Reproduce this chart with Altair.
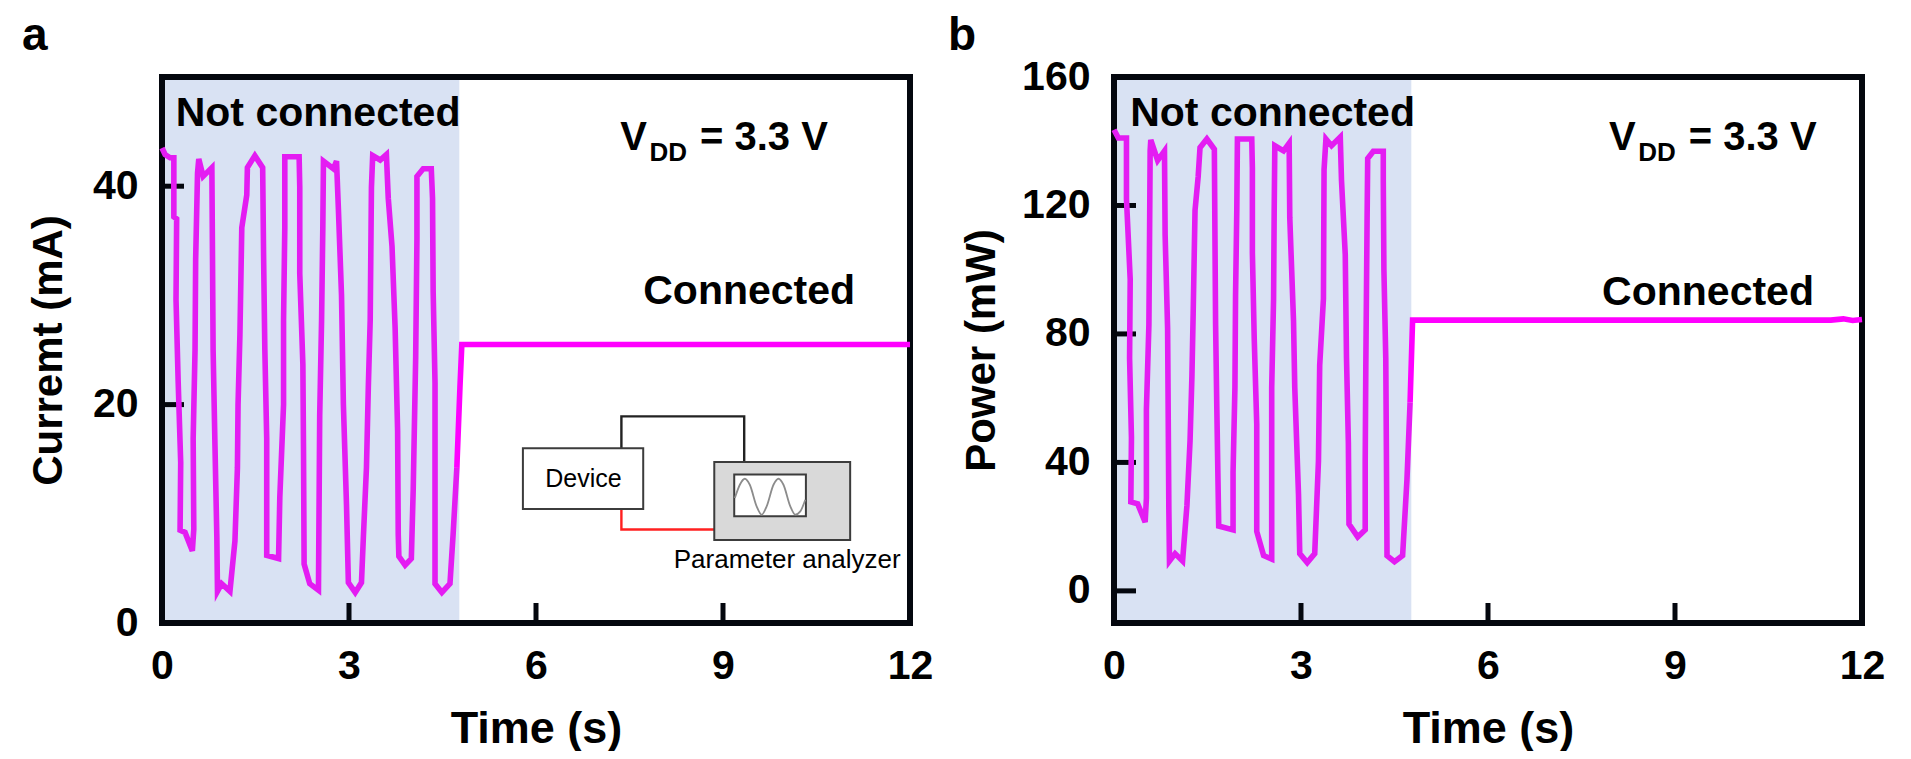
import altair as alt
import pandas as pd

# Panel a: time (s) and current (mA)
a_t = [0,.05,.13,.19,.19,.235,.225,.26,.30,.29,.37,.487,.51,.50,.53,.54,.57,.59,.66,.80,.81,.82,.85,.88,.89,.957,1.09,1.17,1.21,1.22,1.25,1.28,1.36,1.37,1.49,1.615,1.63,1.65,1.68,1.68,1.68,1.87,1.89,1.95,1.95,1.97,1.97,2.2,2.21,2.21,2.26,2.27,2.28,2.37,2.51,2.52,2.53,2.56,2.58,2.59,2.75,2.80,2.83,2.88,2.91,2.96,2.99,3.10,3.2,3.23,3.28,3.31,3.34,3.36,3.38,3.5,3.6,3.63,3.69,3.74,3.78,3.79,3.8,3.9,4.0,4.03,4.07,4.09,4.09,4.19,4.32,4.34,4.35,4.38,4.38,4.38,4.49,4.62,4.67,4.73,4.78,4.81,6,8,10,11.5,12]
a_i = [43.5,42.9,42.6,42.6,37.2,37.0,29.6,22,14.7,8.5,8.3,6.6,8.6,16.9,25,33.3,41.2,42.5,40.9,41.7,33.6,25,16.2,7.8,2.9,3.6,2.9,7.5,14.2,20,26.4,36.2,39.2,41.7,42.8,41.7,33.5,25,16.9,9,6.2,5.9,11.5,20,27.7,36.2,42.7,42.7,39.9,32,23.7,15.9,5.4,3.6,3.0,10.8,19,27.7,36.2,42.3,41.6,42.3,37.9,30,20,10.8,3.7,2.8,3.7,7.8,14.2,21.6,27.7,39.9,42.8,42.4,42.9,38.9,34.5,27,17.6,8.1,6.1,5.3,5.9,12.2,24.4,35.2,40.9,41.6,41.6,38.9,30.4,22,13.5,3.6,2.8,3.6,8.1,14.2,21.6,25.5,25.5,25.5,25.5,25.5,25.5]

# Panel b: time (s) and power (mW)
b_t = [0,.07,.2,.2,.26,.25,.28,.27,.38,.5,.52,.52,.56,.57,.58,.59,.7,.81,.82,.86,.87,.88,.89,.98,1.1,1.17,1.22,1.25,1.27,1.3,1.35,1.38,1.49,1.61,1.62,1.63,1.65,1.68,1.91,1.91,1.94,1.95,1.97,1.98,2.21,2.22,2.22,2.25,2.29,2.29,2.4,2.53,2.53,2.53,2.56,2.57,2.58,2.72,2.81,2.82,2.88,2.9,2.96,2.98,3.1,3.22,3.28,3.3,3.36,3.37,3.4,3.49,3.63,3.65,3.71,3.73,3.76,3.77,3.91,4.03,4.03,4.04,4.06,4.07,4.16,4.32,4.32,4.33,4.36,4.37,4.38,4.5,4.63,4.7,4.75,4.79,6,8,10,11.5,11.7,11.85,12]
b_p = [143.6,141,141,122,97,72.5,47.8,27.7,27.1,21.4,28.9,56.5,82.9,109,137,140.4,134,137,111,81.7,53.6,25.4,9.3,11.6,9.3,26.6,46.7,66.8,86.3,118.5,128.9,138,140.7,137.5,109,82.9,56.5,20.2,19,36.9,63.3,92,118.5,140.7,140.7,131.7,105.3,78.3,51.9,18.5,11,9.9,33.5,63.3,91,118.5,138.6,137,139.4,116.2,84,63.3,30,11.6,8.8,11.6,40.4,70.2,91,131.2,140.7,138.6,141.3,127.7,104.7,72.5,46.1,20.8,16.8,19,40.4,70.2,115,134.6,136.9,136.9,127.7,100.1,72.5,43.8,11,9.1,11,34.6,58.7,84.3,84.3,84.3,84.3,84.3,84.7,84.2,84.5]

# Inset schematic, in panel a's units
inset_sine_t = [9.19,9.27,9.35,9.43,9.54,9.62,9.70,9.81,9.89,9.97,10.08,10.16,10.24,10.32]
inset_sine_i = [11.44,12.66,13.21,12.66,10.68,9.92,10.68,12.66,13.21,12.66,10.68,9.92,10.22,11.29]
black_wire_t = [7.37,7.37,9.34,9.34]
black_wire_i = [16.0,18.92,18.92,14.74]
red_wire_t = [7.37,7.37,8.86]
red_wire_i = [10.45,8.56,8.56]

FONT = "Liberation Sans"
W, H = 748, 546
SHADE_END = 4.77
INNER, OUTER = "#E41CF2", "#FF00FF"
DARK = "#04070E"

def rule_ticks(values, axis):
    df = pd.DataFrame({"v": values})
    if axis == "x":
        return alt.Chart(df).mark_rule(color=DARK, strokeWidth=5).encode(
            x=alt.X("v:Q"), y=alt.value(H), y2=alt.value(H - 20))
    return alt.Chart(df).mark_rule(color=DARK, strokeWidth=5).encode(
        y=alt.Y("v:Q"), x=alt.value(0), x2=alt.value(22))

def text(label, tx, ty, size=41, weight="bold", align="left"):
    return alt.Chart(pd.DataFrame({"x": [tx], "y": [ty], "s": [label]})).mark_text(
        font=FONT, fontSize=size, fontWeight=weight, align=align, baseline="middle",
        color="#000000").encode(x="x:Q", y="y:Q", text="s:N")

def panel(ts, vs, ydomain, yticks, ytitle, letter, letter_x, title_pad, not_x, conn_x, conn_y, v_x, dd_x, eq_x, v_y, dd_y, nc_y, extra=None):
    df = pd.DataFrame({"t": ts, "v": vs})
    df["idx"] = range(len(df))
    inner = df[df.t <= 4.75]
    outer = df[df.t >= 4.73]
    xs = alt.Scale(domain=[0, 12], nice=False, zero=False)
    ys = alt.Scale(domain=ydomain, nice=False, zero=False)
    base = alt.Chart(pd.DataFrame({"x": [0], "x2": [SHADE_END], "y": [ydomain[0]], "y2": [ydomain[1]]})).mark_rect(
        color="#D9E2F3", clip=True).encode(
        x=alt.X("x:Q", scale=xs, axis=alt.Axis(values=[0, 3, 6, 9, 12], title="Time (s)", format="d",
            labelFont=FONT, labelFontSize=41, labelFontWeight="bold", labelColor="#000", labelPadding=23,
            titleFont=FONT, titleFontSize=45, titleFontWeight="bold", titleColor="#000", titlePadding=20,
            domain=False, ticks=False, grid=False, labelFlush=False)),
        x2="x2:Q",
        y=alt.Y("y:Q", scale=ys, axis=alt.Axis(values=yticks, title=ytitle, format="d",
            labelFont=FONT, labelFontSize=41, labelFontWeight="bold", labelColor="#000", labelPadding=24,
            titleFont=FONT, titleFontSize=42, titleFontWeight="bold", titleColor="#000", titlePadding=title_pad,
            domain=False, ticks=False, grid=False, labelFlush=False)),
        y2="y2:Q")
    frame = alt.Chart(pd.DataFrame({"k": [1]})).mark_rect(
        filled=False, stroke=DARK, strokeWidth=6).encode(
        x=alt.value(0), x2=alt.value(W), y=alt.value(0), y2=alt.value(H))
    line1 = alt.Chart(inner).mark_line(color=INNER, strokeWidth=5.6, strokeJoin="miter", clip=False).encode(
        x="t:Q", y="v:Q", order=alt.Order("idx:Q"))
    line2 = alt.Chart(outer).mark_line(color=OUTER, strokeWidth=5.6, strokeJoin="miter", clip=False).encode(
        x="t:Q", y="v:Q", order=alt.Order("idx:Q"))
    letter_mark = alt.Chart(pd.DataFrame({"s": [letter]})).mark_text(
        font=FONT, fontSize=46, fontWeight="bold", align="left", baseline="middle", color="#000").encode(
        x=alt.value(letter_x), y=alt.value(-41), text="s:N")
    layers = [base, rule_ticks([3, 6, 9], "x"), rule_ticks(yticks[1:] if ydomain[0] == 0 else yticks, "y"), frame, line1, line2,
              text("Not connected", not_x, nc_y),
              text("Connected", conn_x, conn_y, align="center"),
              text("V", v_x, v_y, size=40), text("DD", dd_x, dd_y, size=26), text("= 3.3 V", eq_x, v_y, size=40),
              letter_mark]
    if extra:
        layers += extra
    return alt.layer(*layers).properties(width=W, height=H)

def box(x, x2, y, y2, fill, sw=2):
    return alt.Chart(pd.DataFrame({"x": [x], "x2": [x2], "y": [y], "y2": [y2]})).mark_rect(
        fill=fill, stroke="#3c3c3c", strokeWidth=sw).encode(x="x:Q", x2="x2:Q", y="y:Q", y2="y2:Q")

def wire(ts, vs, color, sw=2.4):
    d = pd.DataFrame({"t": ts, "v": vs, "idx": range(len(ts))})
    return alt.Chart(d).mark_line(color=color, strokeWidth=sw).encode(x="t:Q", y="v:Q", order="idx:Q")

inset = [
    wire(black_wire_t, black_wire_i, "#222222"),
    wire(red_wire_t, red_wire_i, "#FF2020"),
    box(5.79, 7.72, 16.0, 10.45, "#FFFFFF"),
    box(8.86, 11.04, 14.74, 7.59, "#D9D9D9"),
    box(9.18, 10.33, 13.59, 9.78, "#FFFFFF", 2),
    alt.Chart(pd.DataFrame({"t": inset_sine_t, "v": inset_sine_i, "idx": range(len(inset_sine_t))})).mark_line(
        color="#8c8c8c", strokeWidth=1.8, interpolate="monotone").encode(x="t:Q", y="v:Q", order="idx:Q"),
    text("Device", 6.76, 13.16, size=25, weight="normal", align="center"),
    text("Parameter analyzer", 10.03, 5.76, size=26, weight="normal", align="center"),
]

a = panel(a_t, a_i, [0, 50], [0, 20, 40], "Curremt (mA)", "a", -140, 22, 0.22, 9.42, 30.3, 7.35, 7.82, 8.63, 44.4, 43.05, 46.6, inset)
b = panel(b_t, b_p, [-10, 160], [0, 40, 80, 120, 160], "Power (mW)", "b", -166, 18, 0.26, 9.53, 92.9, 7.94, 8.41, 9.22, 141, 136.3, 148.5)

chart = alt.hconcat(a, b, spacing=15).resolve_scale(x="independent", y="independent").properties(
    padding={"left": 14, "top": 5, "right": 0, "bottom": 0}, background="#FFFFFF"
).configure_view(stroke=None)

chart.save("out.html", embed_options={"renderer": "svg", "actions": False})
